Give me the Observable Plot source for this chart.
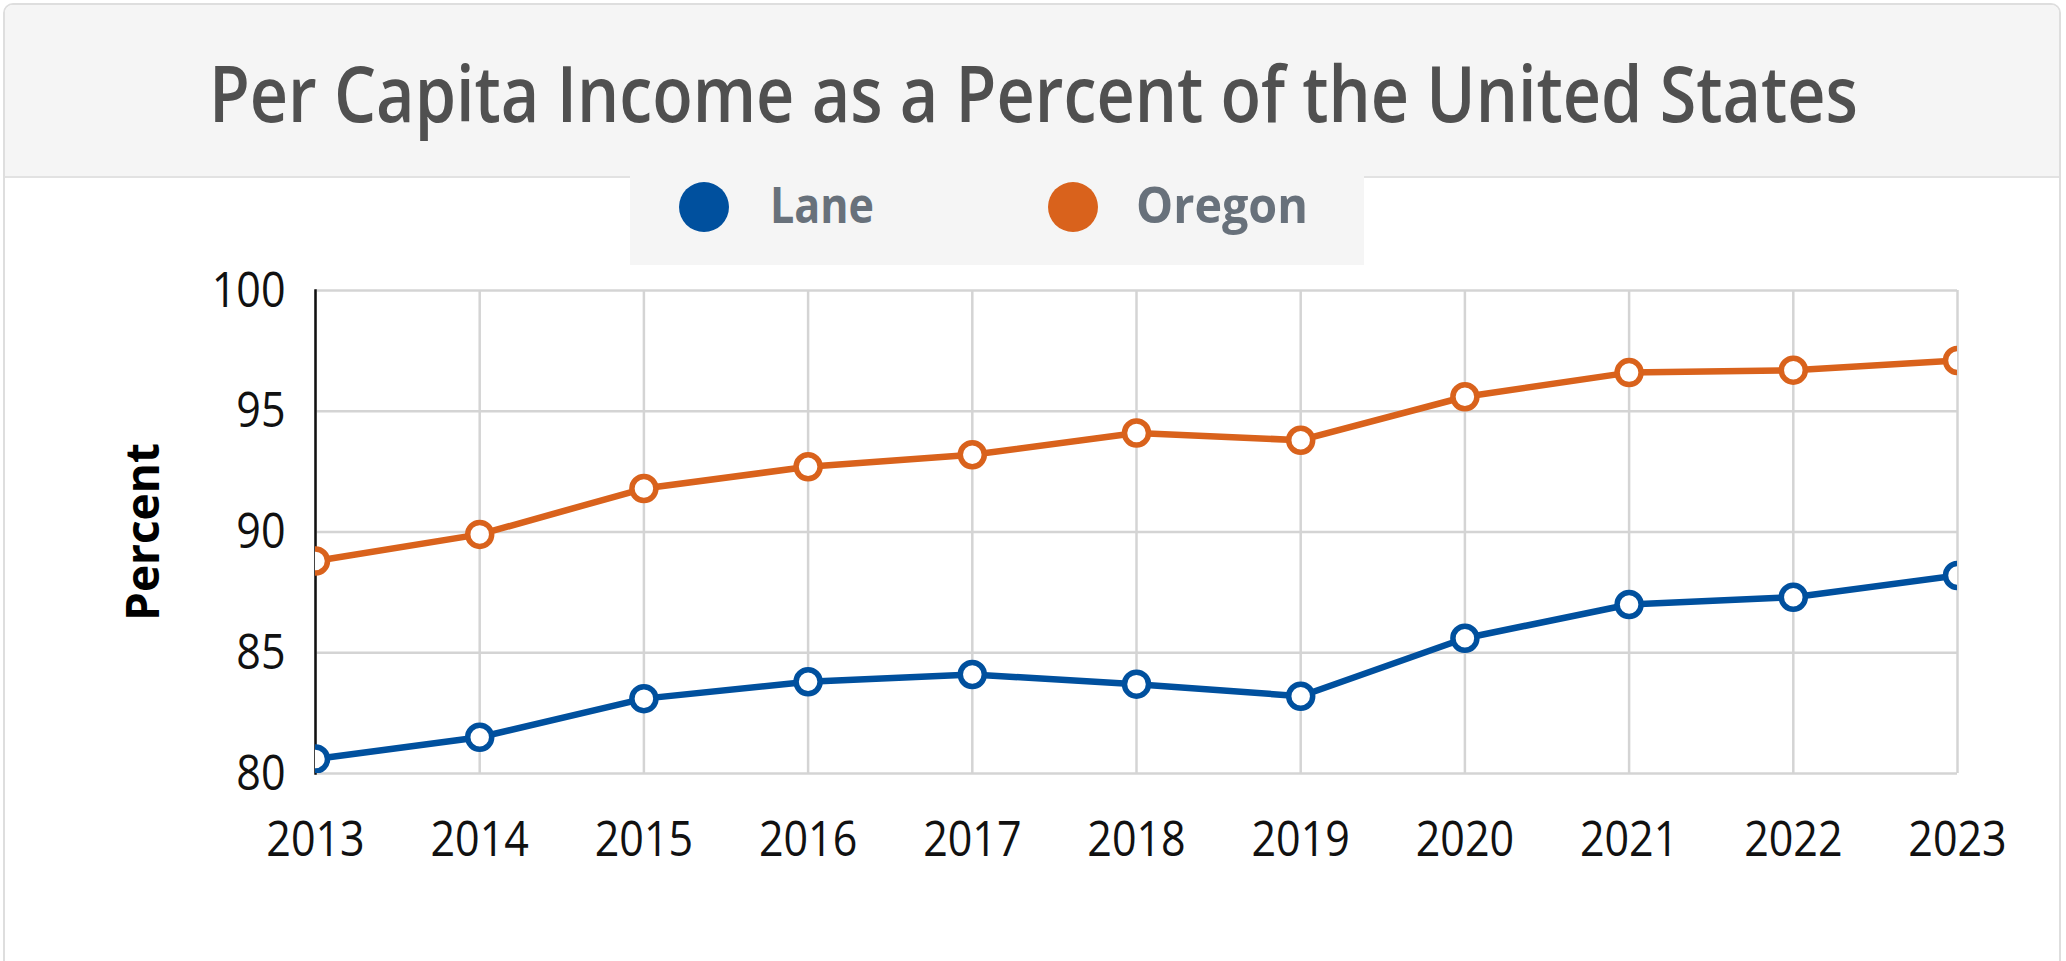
<!DOCTYPE html>
<html>
<head>
<meta charset="utf-8">
<script src="https://cdn.jsdelivr.net/npm/d3@7"></script>
<script src="https://cdn.jsdelivr.net/npm/@observablehq/plot@0.6"></script>
<style>
  html, body { margin: 0; padding: 0; background: #fff; width: 2066px; height: 961px; overflow: hidden; }
  body { position: relative; font-family: "Open Sans", "Noto Sans", sans-serif; }
  #card { position: absolute; left: 3px; top: 3px; width: 2058px; height: 1010px; border: 2px solid #dedede; border-radius: 10px; box-sizing: border-box; overflow: hidden; }
  #header { position: absolute; left: 0; top: 0; right: 0; height: 171px; background: #f5f5f5; border-bottom: 2px solid #e2e2e2; }
  #title { position: absolute; left: 0; width: 2066px; top: 40px; text-align: center; font-size: 77px; font-weight: 600; line-height: normal; color: #505050; white-space: nowrap; }
  #title span { display: inline-block; transform-origin: center; }
  #legend { position: absolute; left: 630px; top: 176px; width: 734px; height: 89px; background: #f5f5f5; }
  .sw { position: absolute; width: 50px; height: 50px; border-radius: 50%; top: 182px; }
  .lt { position: absolute; top: 168px; font-size: 51px; font-weight: 700; color: #68717b; line-height: normal; white-space: nowrap; transform-origin: left; }
  #chart { position: absolute; left: 0; top: 265px; }
</style>
</head>
<body>
<div id="card"><div id="header"></div></div>
<div id="title"><span id="titleText"></span></div>
<div id="legend"></div>
<div id="legendItems"></div>
<div id="chart"></div>
<script>
// ---- data ----
const titleText = "Per Capita Income as a Percent of the United States";
const yLabel = "Percent";
const years = [2013, 2014, 2015, 2016, 2017, 2018, 2019, 2020, 2021, 2022, 2023];
const seriesNames = ["Lane", "Oregon"];
const seriesColors = ["#00509e", "#d9621c"];
const lane = [80.6, 81.5, 83.1, 83.8, 84.1, 83.7, 83.2, 85.6, 87.0, 87.3, 88.2];
const oregon = [88.8, 89.9, 91.8, 92.7, 93.2, 94.1, 93.8, 95.6, 96.6, 96.7, 97.1];
const yTicks = [80, 85, 90, 95, 100];

const rows = years.flatMap((yr, i) => [
  {year: yr, series: seriesNames[0], value: lane[i]},
  {year: yr, series: seriesNames[1], value: oregon[i]}
]);

// ---- title ----
const tt = document.getElementById("titleText");
tt.textContent = titleText;
tt.style.transform = `scaleX(${1649 / tt.getBoundingClientRect().width})`;

// ---- legend ----
const legendLayout = [{sw: 679, tx: 770, w: 104}, {sw: 1048, tx: 1136, w: 172}];
const li = document.getElementById("legendItems");
seriesNames.forEach((name, i) => {
  const s = document.createElement("div");
  s.className = "sw";
  s.style.left = legendLayout[i].sw + "px";
  s.style.background = seriesColors[i];
  li.appendChild(s);
  const t = document.createElement("div");
  t.className = "lt";
  t.style.left = legendLayout[i].tx + "px";
  t.textContent = name;
  li.appendChild(t);
  t.style.transform = `scaleX(${legendLayout[i].w / t.getBoundingClientRect().width})`;
});

// ---- chart ----
const gridStyle = {stroke: "#d4d4d4", strokeOpacity: 1, strokeWidth: 2.5};
const chart = Plot.plot({
  width: 2066,
  height: 696,
  marginTop: 25,
  marginBottom: 188,
  marginLeft: 315,
  marginRight: 109,
  style: {fontFamily: "'Open Sans', 'Noto Sans', sans-serif", fontSize: "50px", color: "#111", background: "transparent", overflow: "visible"},
  x: {domain: [years[0], years[years.length - 1]]},
  y: {domain: [yTicks[0], yTicks[yTicks.length - 1]]},
  color: {domain: seriesNames, range: seriesColors},
  marks: [
    Plot.gridX(years, gridStyle),
    Plot.gridY(yTicks, gridStyle),
    Plot.axisX(years, {tickSize: 0, tickPadding: 47, tickFormat: "d", label: null}),
    Plot.axisY(yTicks, {tickSize: 0, tickPadding: 30, label: yLabel, labelAnchor: "center", labelArrow: "none", labelOffset: 189}),
    Plot.frame({anchor: "left", stroke: "#111", strokeWidth: 2.5}),
    Plot.line(rows, {x: "year", y: "value", z: "series", stroke: "series", strokeWidth: 6.5, clip: true}),
    Plot.dot(rows, {x: "year", y: "value", stroke: "series", fill: "white", r: 12, strokeWidth: 5.5, clip: true})
  ]
});
document.getElementById("chart").appendChild(chart);

// condense tick labels, bold axis label
chart.querySelectorAll('g[aria-label="x-axis tick label"] text, g[aria-label="y-axis tick label"] text').forEach(t => {
  const w = t.getComputedTextLength();
  t.setAttribute("textLength", w * 0.86);
  t.setAttribute("lengthAdjust", "spacingAndGlyphs");
});
chart.querySelectorAll('g[aria-label="y-axis label"] text').forEach(t => {
  t.setAttribute("font-weight", "700");
  t.setAttribute("font-size", "46px");
  t.setAttribute("fill", "#000");
});
</script>
</body>
</html>
